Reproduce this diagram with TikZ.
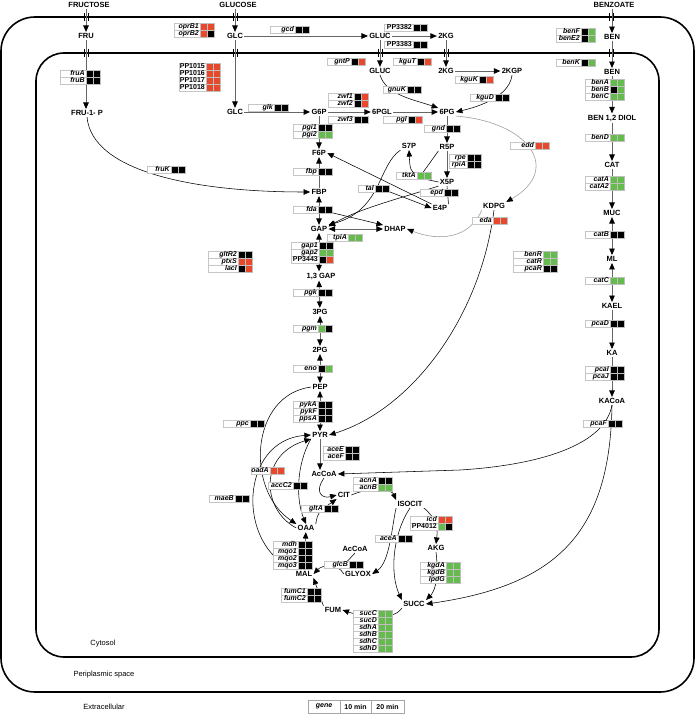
\documentclass[tikz,border=0pt]{standalone}
\usepackage{fontspec}
\setmainfont{Liberation Sans}
\usetikzlibrary{arrows.meta}

\definecolor{cR}{HTML}{E8492C}
\definecolor{cG}{HTML}{66BB4F}
\colorlet{cK}{black}

\newcommand{\genes}[5]{%
  \foreach \g/\ca/\cb [count=\i from 0] in {#5}{
    \draw[glab] (#2,#3+7*\i) rectangle ++(#4,7);
    \fill[\ca] (#2+#4,#3+7*\i) rectangle ++(7,7);
    \fill[\cb] (#2+#4+7,#3+7*\i) rectangle ++(7,7);
    \draw[cell] (#2+#4,#3+7*\i) rectangle ++(7,7) ++(0,-7) rectangle ++(7,7);
    \node[gtxt] (#1-\i) at (#2+#4-1,#3+7*\i+5.3) {\g};
  }}

\begin{document}
\begin{tikzpicture}[x=1pt,y=-1pt,
    met/.style={font=\fontsize{7.5}{8}\selectfont\bfseries, inner sep=1.2pt},
    glab/.style={draw=gray!45, fill=white, line width=0.4pt},
    cell/.style={draw=gray!50, line width=0.3pt},
    gtxt/.style={anchor=base east, inner sep=0pt, font=\fontsize{7}{7}\selectfont\bfseries\itshape},
    mem/.style={line width=1.6pt},
    tck/.style={line width=0.9pt},
    arr/.style={draw=black!60, line width=0.9pt, -{Triangle[length=6.5pt,width=5.5pt,color=black]}},
    barr/.style={arr, {Triangle[length=6.5pt,width=5.5pt,color=black]}-{Triangle[length=6.5pt,width=5.5pt,color=black]}},
    crv/.style={line width=0.55pt, -{Triangle[length=6.5pt,width=5.5pt]}},
    gcrv/.style={crv, draw=black!40, -{Triangle[length=6.5pt,width=5.5pt,color=black]}},
    room/.style={font=\fontsize{7.5}{8}\selectfont},
    leg/.style={draw=gray!70, minimum height=13pt, inner sep=0pt, font=\fontsize{7}{8}\selectfont\bfseries}
  ]
  \fill[white] (0,0) rectangle (697,714);
  \useasboundingbox (0,0) rectangle (697,714);

  \draw[mem, rounded corners=34pt] (1,17) rectangle (694,692);
  \draw[mem, rounded corners=28pt] (36,53) rectangle (659,657);
  \foreach \x in {86,235,611}
    \draw[tck] (\x-2,13) -- ++(0,8) (\x+2,13) -- ++(0,8);
  \foreach \x in {86,235,380,446,611}
    \draw[tck] (\x-2,49) -- ++(0,8) (\x+2,49) -- ++(0,8);

  \node[met] (fructose) at (89,5) {FRUCTOSE};
  \node[met] (glucose) at (238,5) {GLUCOSE};
  \node[met] (benzoate) at (614,5) {BENZOATE};
  \node[met] (FRUp) at (86,36) {FRU};
  \node[met] (FRU1P) at (87,113) {FRU-1- P};
  \node[met] (GLCp) at (235,36) {GLC};
  \node[met] (GLC) at (235,112) {GLC};
  \node[met] (GLUCp) at (380,36) {GLUC};
  \node[met] (KGp) at (446,36) {2KG};
  \node[met] (GLUC) at (380,71) {GLUC};
  \node[met] (KG) at (446,71) {2KG};
  \node[met] (KGP) at (512,71) {2KGP};
  \node[met] (G6P) at (319,112) {G6P};
  \node[met] (PGL) at (382,112) {6PGL};
  \node[met] (PG6) at (447,112) {6PG};
  \node[met] (R5P) at (447,147) {R5P};
  \node[met] (S7P) at (409,146) {S7P};
  \node[met] (X5P) at (447,182) {X5P};
  \node[met] (E4P) at (440,208) {E4P};
  \node[met] (KDPG) at (494,206) {KDPG};
  \node[met] (F6P) at (319,153) {F6P};
  \node[met] (FBP) at (319,192) {FBP};
  \node[met] (GAP) at (319,229) {GAP};
  \node[met] (DHAP) at (395,229) {DHAP};
  \node[met] (BPG) at (321,276) {1,3 GAP};
  \node[met] (PG3) at (320,312) {3PG};
  \node[met] (PG2) at (320,350) {2PG};
  \node[met] (PEP) at (320,387) {PEP};
  \node[met] (PYR) at (320,435) {PYR};
  \node[met] (ACCOA) at (324,474) {AcCoA};
  \node[met] (CIT) at (344,495) {CIT};
  \node[met] (ICIT) at (410,504) {ISOCIT};
  \node[met] (OAA) at (306,528) {OAA};
  \node[met] (AKG) at (436,548) {AKG};
  \node[met] (ACCOA2) at (355,549) {AcCoA};
  \node[met] (GLYOX) at (358,574) {GLYOX};
  \node[met] (MAL) at (304,574) {MAL};
  \node[met] (SUCC) at (414,604) {SUCC};
  \node[met] (FUM) at (333,610) {FUM};
  \node[met] (BENp) at (612,37) {BEN};
  \node[met] (BEN) at (612,72) {BEN};
  \node[met] (DIOL) at (612,118) {BEN 1,2 DIOL};
  \node[met] (CAT) at (612,165) {CAT};
  \node[met] (MUC) at (612,213) {MUC};
  \node[met] (ML) at (612,259) {ML};
  \node[met] (KAEL) at (612,306) {KAEL};
  \node[met] (KA) at (612,353) {KA};
  \node[met] (KACOA) at (612,401) {KACoA};

  \node[room] (cyto) at (103,644) {Cytosol};
  \node[room] (peri) at (104,675) {Periplasmic space};
  \node[room] (extra) at (104,707) {Extracellular};

  \coordinate (tkJ) at (419,178);
  \coordinate (talJ) at (377,187);
  \coordinate (fdaJ) at (329,212);
  \coordinate (glcJ) at (342,567);
  \coordinate (acJ) at (460,470);

  \draw[arr] (fructose.south -| FRUp) -- (FRUp);
  \draw[arr] (FRUp) -- (FRU1P.north -| FRUp);
  \draw[arr] (glucose.south -| GLCp) -- (GLCp);
  \draw[arr] (GLCp) -- (GLC);
  \draw[arr] (GLCp) -- (GLUCp);
  \draw[arr] (GLUCp) -- (KGp);
  \draw[arr] (GLUCp) -- (GLUC);
  \draw[arr] (KGp) -- (KG);
  \draw[arr] (KG) -- (KGP);
  \draw[arr] (benzoate.south -| BENp) -- (BENp);
  \draw[arr] (BENp) -- (BEN);
  \draw[arr] (BEN) -- (DIOL);
  \draw[arr] (DIOL) -- (CAT);
  \draw[arr] (CAT) -- (MUC);
  \draw[barr] (MUC) -- (ML);
  \draw[barr] (ML) -- (KAEL);
  \draw[arr] (KAEL) -- (KA);
  \draw[arr] (KA) -- (KACOA);

  \draw[arr] (GLC) -- (G6P);
  \draw[arr] (G6P) -- (PGL);
  \draw[arr] (PGL) -- (PG6);
  \draw[arr] (PG6) -- (R5P);
  \draw[arr] (R5P) -- (X5P);
  \draw[arr] (G6P) -- (F6P);
  \draw[arr] (FBP) -- (F6P);
  \draw[barr] (FBP) -- (GAP);
  \draw[barr] (GAP) -- (DHAP);
  \draw[barr] (GAP) -- (BPG.north -| GAP);
  \draw[barr] (BPG.south -| GAP) -- (PG3);
  \draw[barr] (PG3) -- (PG2);
  \draw[barr] (PG2) -- (PEP);
  \draw[barr] (PEP) -- (PYR);
  \draw[arr] (PYR) -- (ACCOA.north -| PYR);
  \draw[arr] (MAL) -- (OAA);

  \draw[crv] (FRU1P.south) .. controls (92,172) and (195,192) .. (FBP.west);
  \draw[crv] (GLUC.south) .. controls (386,95) and (415,100) .. (PG6.north west);
  \draw[crv] (KGP.south) .. controls (510,92) and (490,104) .. (PG6.east);
  \draw[gcrv] (PG6.south east) .. controls (530,122) and (562,170) .. (KDPG.north east);
  \draw[gcrv] (KDPG.south west) .. controls (470,238) and (440,242) .. (DHAP.east);
  \draw[crv] (X5P.west) -- (tkJ) .. controls (410,170) .. (S7P.south);
  \draw[crv, -] (R5P.south west) -- (tkJ);
  \draw[crv] (S7P.south west) .. controls (378,165) and (382,210) .. (GAP.north east);
  \draw[crv] (talJ) -- (E4P.west);
  \draw[crv] (X5P.south west) .. controls (405,197) and (360,208) .. (GAP.15);
  \draw[crv, -] (X5P.south) -- (E4P.north east);
  \draw[crv] (E4P.north west) -- (F6P.east);
  \draw[crv] (fdaJ) -- (DHAP.north west);
  \draw[crv] (KDPG.south) .. controls (480,320) and (410,410) .. (PYR.east);

  \draw[crv] (PEP.west) .. controls (250,395) and (245,490) .. (OAA.north west);
  \draw[crv] (MAL.north west) .. controls (235,545) and (240,440) .. (PYR.west);
  \draw[crv] (OAA.west) .. controls (262,510) and (258,455) .. (PYR.south west);
  \draw[crv] (PYR.south west) .. controls (296,465) and (296,500) .. (OAA.north);
  \draw[crv] (ACCOA.south) .. controls (314,492) and (322,499) .. (CIT.west);
  \draw[crv] (OAA.north east) .. controls (318,512) .. (CIT.south west);
  \draw[crv] (CIT.east) .. controls (372,486) and (392,490) .. (ICIT.north west);
  \draw[crv] (ICIT.south east) .. controls (436,518) and (438,528) .. (AKG.north);
  \draw[crv] (AKG.south) .. controls (440,585) and (432,594) .. (SUCC.north east);
  \draw[crv] (ICIT.south) .. controls (392,535) and (390,575) .. (SUCC.north west);
  \draw[crv] (ICIT.south west) .. controls (392,525) and (390,562) .. (GLYOX.east);
  \draw[crv] (GLYOX.west) .. controls (338,563) and (322,565) .. (MAL.east);
  \draw[crv, -] (ACCOA2.south) -- (glcJ);
  \draw[crv] (FUM.north west) -- (MAL.south east);
  \draw[crv] (SUCC.south west) .. controls (396,618) and (372,620) .. (FUM.east);
  \draw[crv] (KACOA.south) .. controls (605,445) and (540,465) .. (acJ) -- (ACCOA.east);
  \draw[crv] (KACOA.south) .. controls (610,530) and (560,585) .. (SUCC.east);

  \genes{fru}{60}{70}{26}{fruA/cK/cK, fruB/cK/cK}
  \genes{opr}{174}{23}{26}{oprB1/cR/cR, oprB2/cR/cK}
  \genes{pp10}{179}{63}{27}{\upshape PP1015/cR/cR, \upshape PP1016/cR/cR, \upshape PP1017/cR/cR, \upshape PP1018/cR/cR}
  \genes{fruk}{147}{166}{24}{fruK/cK/cK}
  \genes{gcd}{270}{26}{25}{gcd/cK/cK}
  \genes{pp3382}{384}{24}{29}{\upshape PP3382/cK/cK}
  \genes{pp3383}{384}{41}{29}{\upshape PP3383/cK/cK}
  \genes{gntp}{327}{58}{24}{gntP/cK/cR}
  \genes{kgut}{393}{58}{24}{kguT/cK/cR}
  \genes{kguk}{455}{76}{24}{kguK/cK/cR}
  \genes{kgud}{470}{94}{25}{kguD/cK/cK}
  \genes{gnuk}{383}{86}{24}{gnuK/cK/cK}
  \genes{glk}{248}{104}{26}{glk/cK/cK}
  \genes{zwf}{328}{93}{26}{zwf1/cK/cR, zwf2/cK/cR}
  \genes{zwf3}{328}{116}{26}{zwf3/cK/cK}
  \genes{pgl}{383}{116}{25}{pgl/cK/cR}
  \genes{pgi}{293}{124}{25}{pgi1/cK/cK, pgi2/cG/cG}
  \genes{fbp}{293}{168}{25}{fbp/cK/cK}
  \genes{gnd}{424}{125}{22}{gnd/cK/cK}
  \genes{rpe}{449}{154}{18}{rpe/cK/cK, rpiA/cK/cK}
  \genes{tkt}{396}{172}{21}{tktA/cG/cG}
  \genes{tal}{358}{185}{17}{tal/cK/cK}
  \genes{epd}{420}{189}{24}{epd/cK/cK}
  \genes{edd}{510}{142}{25}{edd/cR/cR}
  \genes{eda}{472}{217}{21}{eda/cR/cR}
  \genes{fda}{293}{206}{25}{fda/cK/cK}
  \genes{tpi}{327}{234}{21}{tpiA/cG/cG}
  \genes{gap}{291}{242}{28}{gap1/cK/cK, gap2/cG/cG, \upshape PP3443/cK/cR}
  \genes{reg}{208}{251}{30}{gltR2/cK/cK, ptxS/cR/cR, lacI/cK/cR}
  \genes{pgk}{293}{289}{25}{pgk/cK/cK}
  \genes{pgm}{293}{325}{25}{pgm/cG/cK}
  \genes{eno}{293}{365}{25}{eno/cK/cG}
  \genes{pyk}{293}{401}{25}{pykA/cK/cK, pykF/cK/cK, ppsA/cK/cK}
  \genes{ppc}{223}{420}{27}{ppc/cK/cK}
  \genes{ace}{323}{446}{22}{aceE/cK/cK, aceF/cK/cK}
  \genes{mae}{209}{495}{26}{maeB/cK/cK}
  \genes{oad}{251}{467}{19}{oadA/cR/cR}
  \genes{acc}{268}{482}{25}{accC2/cK/cK}
  \genes{acn}{353}{477}{25}{acnA/cK/cK, acnB/cG/cG}
  \genes{glt}{301}{505}{23}{gltA/cK/cK}
  \genes{icd}{410}{516}{28}{icd/cR/cR, \upshape PP4012/cG/cK}
  \genes{acea}{375}{535}{23}{aceA/cK/cK}
  \genes{glcb}{324}{561}{25}{glcB/cK/cK}
  \genes{mdh}{273}{541}{25}{mdh/cK/cK, mqo1/cK/cK, mqo2/cK/cK, mqo3/cK/cK}
  \genes{kgd}{420}{562}{26}{kgdA/cG/cG, kgdB/cG/cG, lpdG/cG/cG}
  \genes{fum}{281}{588}{26}{fumC1/cK/cK, fumC2/cK/cK}
  \genes{suc}{353}{610}{25}{sucC/cG/cG, sucD/cG/cG, sdhA/cG/cG, sdhB/cG/cG, sdhC/cG/cG, sdhD/cG/cG}
  \genes{benf}{556}{28}{25}{benF/cK/cG, benE2/cK/cG}
  \genes{benk}{556}{59}{25}{benK/cK/cG}
  \genes{bena}{585}{79}{25}{benA/cG/cG, benB/cK/cG, benC/cG/cG}
  \genes{bend}{585}{134}{25}{benD/cG/cG}
  \genes{cata}{585}{176}{25}{catA/cG/cG, catA2/cG/cG}
  \genes{benr}{513}{251}{30}{benR/cG/cG, catR/cG/cG, pcaR/cK/cK}
  \genes{catb}{585}{231}{25}{catB/cK/cK}
  \genes{catc}{585}{277}{25}{catC/cG/cG}
  \genes{pcad}{585}{320}{25}{pcaD/cK/cK}
  \genes{pcai}{585}{366}{25}{pcaI/cK/cK, pcaJ/cK/cK}
  \genes{pcaf}{583}{420}{25}{pcaF/cK/cK}

  \node[leg, minimum width=32pt] (legGene) at (324,706.5) {\itshape gene};
  \node[leg, minimum width=31pt] (leg10) at (355.5,706.5) {10 min};
  \node[leg, minimum width=33pt] (leg20) at (387.5,706.5) {20 min};
\end{tikzpicture}
\end{document}
